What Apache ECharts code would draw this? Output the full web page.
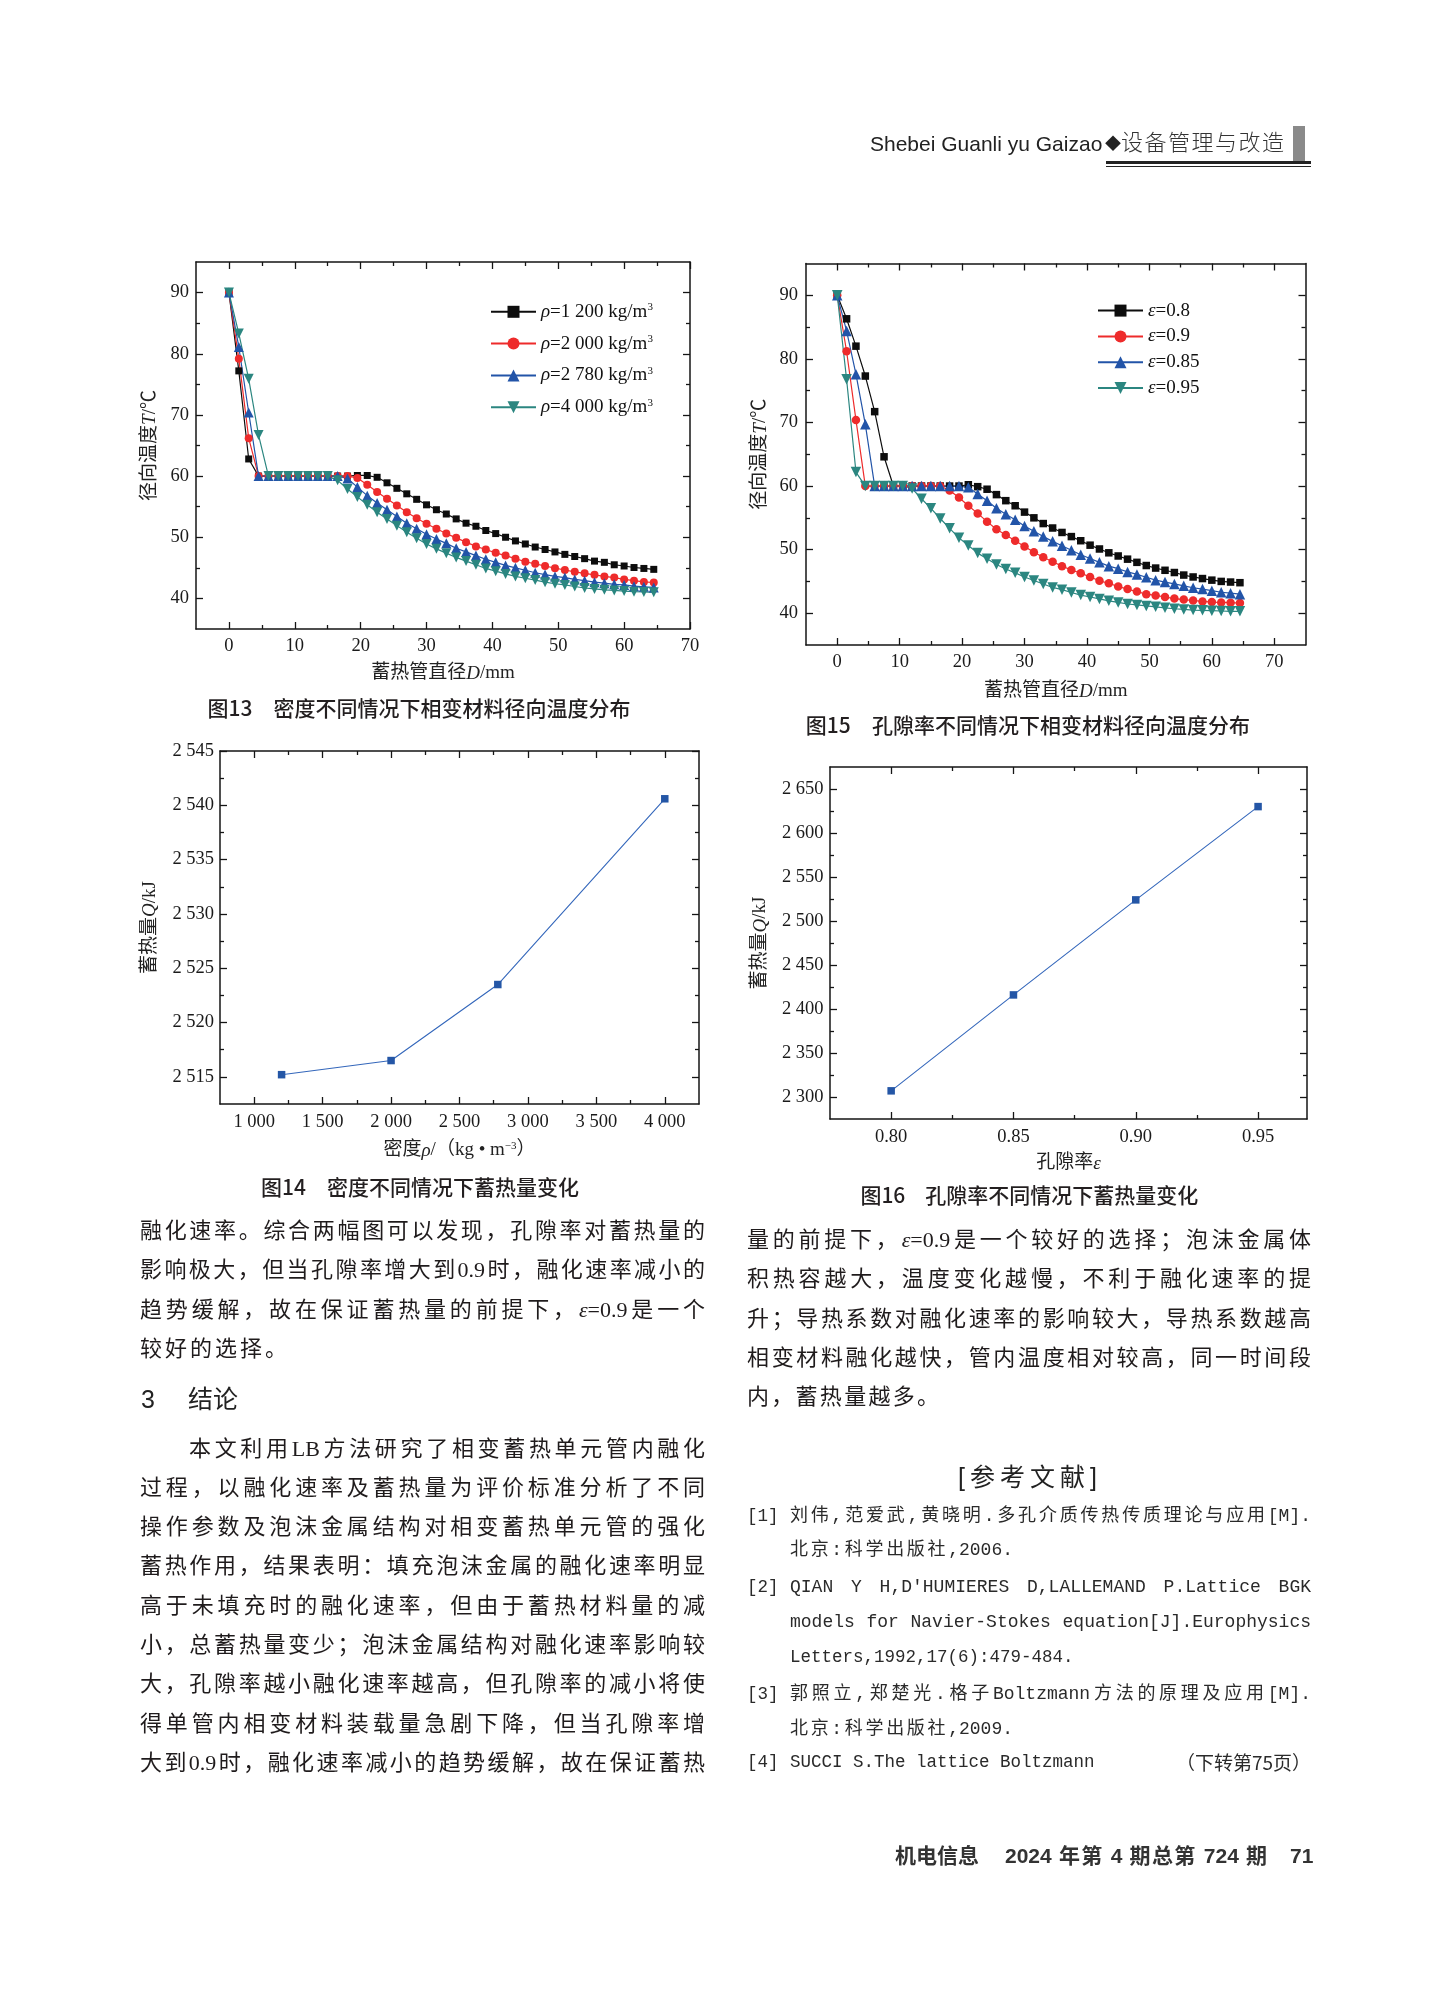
<!DOCTYPE html>
<html><head><meta charset="utf-8">
<script src="https://cdn.jsdelivr.net/npm/echarts@6/dist/echarts.min.js"></script>
<style>
html,body{margin:0;padding:0;background:#fff;}
#page{position:relative;width:1451px;height:1995px;overflow:hidden;background:#fff;}
#chart{position:absolute;left:0;top:0;width:1451px;height:1995px;}
.ln{position:absolute;height:30px;line-height:30px;color:#1f1b1c;white-space:normal;overflow:visible;text-align:justify;text-align-last:justify;}
.body{font-family:"Liberation Serif","Noto Sans CJK SC",serif;font-size:22px;}
.ref{font-family:"Liberation Mono","Noto Sans CJK SC",monospace;font-size:17.5px;color:#2a2a2a;}
.sans{font-family:"Liberation Sans","Noto Sans CJK SC",sans-serif;}
</style></head>
<body><div id="page"><div id="chart"></div></div>
<script>
// ================= DATA =================
// Fig.13 / Fig.15: radial position (mm)
const diameterMM = [0,1.5,3,4.5,6,7.5,9,10.5,12,13.5,15,16.5,18,19.5,21,22.5,24,25.5,27,28.5,30,31.5,33,34.5,36,37.5,39,40.5,42,43.5,45,46.5,48,49.5,51,52.5,54,55.5,57,58.5,60,61.5,63,64.5];
// Fig.13 series (temperature, °C)
const densityNames = ['ρ=1 200 kg/m3','ρ=2 000 kg/m3','ρ=2 780 kg/m3','ρ=4 000 kg/m3'];
const tempRho1200 = [90,77.2,62.8,60,60,60,60,60,60,60,60,60,60,60.1,60.1,59.8,58.9,58.0,57.1,56.2,55.3,54.5,53.8,53.0,52.3,51.8,51.1,50.6,50.0,49.4,48.9,48.4,48.0,47.6,47.2,46.85,46.5,46.1,45.9,45.5,45.3,45.05,44.9,44.75];
const tempRho2000 = [90,79.2,66.2,60,60,60,60,60,60,60,60,60,60,59.7,58.6,57.4,56.3,55.2,54.1,53.1,52.2,51.4,50.6,49.9,49.2,48.5,48.0,47.45,47.0,46.5,46.0,45.65,45.3,44.95,44.65,44.35,44.1,43.85,43.6,43.4,43.1,42.9,42.7,42.6];
const tempRho2780 = [90,81.1,70.4,60,60,60,60,60,60,60,60,60,59.6,58.2,56.8,55.6,54.5,53.4,52.3,51.4,50.5,49.7,49.0,48.2,47.6,47.0,46.4,45.9,45.4,45.0,44.6,44.2,43.9,43.6,43.4,43.1,42.9,42.65,42.5,42.3,42.2,42.0,41.9,41.8];
const tempRho4000 = [90,83.3,75.9,66.7,60,60,60,60,60,60,60,59.3,57.9,56.6,55.3,54.1,53.0,51.9,50.8,49.85,48.9,48.1,47.4,46.7,46.1,45.5,44.9,44.45,44.0,43.6,43.3,43.0,42.65,42.4,42.2,41.95,41.7,41.55,41.4,41.3,41.2,41.1,41.05,41.0];
// Fig.15 series (temperature, °C)
const porosityNames = ['ε=0.8','ε=0.9','ε=0.85','ε=0.95'];
const tempEps08  = [90,86.3,82.0,77.3,71.7,64.6,60,60,60,60,60,60,60,60,60.2,59.9,59.5,58.65,57.7,56.9,55.9,55.0,54.1,53.4,52.7,52.05,51.4,50.7,50.1,49.5,49.0,48.5,48.0,47.5,47.1,46.75,46.4,46.0,45.7,45.45,45.2,45.0,44.9,44.8];
const tempEps09  = [90,81.2,70.4,60,60,60,60,60,60,60,60,60,59.3,58.2,56.9,55.7,54.4,53.2,52.3,51.4,50.5,49.6,48.8,48.1,47.4,46.8,46.3,45.7,45.1,44.7,44.2,43.8,43.4,43.0,42.8,42.55,42.3,42.15,42.0,41.85,41.75,41.7,41.65,41.6];
const tempEps085 = [90,84.4,77.6,69.7,60,60,60,60,60,60,60,60,60,60,59.8,58.75,57.7,56.5,55.55,54.7,53.7,52.9,52.05,51.3,50.6,49.9,49.2,48.6,48.0,47.4,47.0,46.5,46.1,45.65,45.2,44.9,44.6,44.3,44.0,43.8,43.55,43.3,43.15,43.0];
const tempEps095 = [90,76.8,62.2,60,60,60,60,60,59.6,58.0,56.5,54.9,53.35,51.85,50.65,49.45,48.55,47.65,46.95,46.35,45.7,45.15,44.6,44.05,43.7,43.25,42.85,42.55,42.25,41.95,41.7,41.45,41.3,41.15,41.0,40.85,40.7,40.6,40.5,40.45,40.4,40.35,40.3,40.3];
// Fig.14: heat storage vs density
const densityValues = [1200, 2000, 2780, 4000];
const heatByDensity = [2515.2, 2516.5, 2523.5, 2540.6];
// Fig.16: heat storage vs porosity
const porosityValues = [0.80, 0.85, 0.90, 0.95];
const heatByPorosity = [2307, 2416, 2524, 2630];
// tick values
const tempTicks = [40,50,60,70,80,90];
const tempMinor = [45,55,65,75,85];
const diamTicks = [0,10,20,30,40,50,60,70];
const diamMinor = [5,15,25,35,45,55,65];
const rhoTicks = [1000,1500,2000,2500,3000,3500,4000];
const rhoMinor = [1250,1750,2250,2750,3250,3750];
const qRhoTicks = [2515,2520,2525,2530,2535,2540,2545];
const qRhoMinor = [2517.5,2522.5,2527.5,2532.5,2537.5,2542.5];
const epsTicks = [0.80,0.85,0.90,0.95];
const epsMinor = [0.825,0.875,0.925];
const qEpsTicks = [2300,2350,2400,2450,2500,2550,2600,2650];
const qEpsMinor = [2325,2375,2425,2475,2525,2575,2625];

// ================= STYLE HELPERS =================
const AX = '#151515';
const SERIF = "'Liberation Serif','Times New Roman','Noto Sans CJK SC',serif";
const CJK = "'Liberation Serif','Noto Sans CJK SC',serif";
const NAME_FS = 19;
const richName = {
  i: {fontStyle: 'italic', fontFamily: SERIF, fontSize: NAME_FS, color: '#222'},
  s: {fontFamily: SERIF, fontSize: 11, lineHeight: 11, verticalAlign: 'top', color: '#222'}
};
const thousands = v => String(Math.round(v)).replace(/\B(?=(\d{3})+(?!\d))/g, ' ');

function axisSet(kind, gi, min, max, majors, minors, label, nm) {
  const pos = kind === 'x' ? ['bottom', 'top'] : ['left', 'right'];
  const base = {type: 'value', gridIndex: gi, min: min, max: max, splitLine: {show: false},
    minorTick: {show: false}, minorSplitLine: {show: false}, silent: true, z: 3};
  const out = [];
  pos.forEach((p, k) => {
    const main = Object.assign({}, base, {
      position: p,
      axisLine: {show: true, onZero: false, lineStyle: {color: AX, width: 1.5}},
      axisTick: {show: true, inside: true, length: 7, customValues: majors, lineStyle: {color: AX, width: 1.3}},
      axisLabel: k === 0 ? Object.assign({show: true, customValues: majors, color: '#1a1a1a',
        fontFamily: SERIF, fontSize: 18.5}, label) : {show: false}
    });
    if (k === 0 && nm) {
      main.name = nm.text;
      main.nameLocation = 'middle';
      main.nameGap = nm.gap;
      main.nameTextStyle = {fontFamily: CJK, fontSize: NAME_FS, color: '#222', rich: richName};
    }
    out.push(main);
    out.push(Object.assign({}, base, {
      position: p,
      axisLine: {show: false, onZero: false},
      axisTick: {show: true, inside: true, length: 4, customValues: minors, lineStyle: {color: AX, width: 1.3}},
      axisLabel: {show: false}
    }));
  });
  return out;
}

function lineSeries(name, xs, ys, gi, color, symbol, size, rotate) {
  return {type: 'line', name: name, xAxisIndex: gi * 4, yAxisIndex: gi * 4,
    data: xs.map((x, i) => [x, ys[i]]), symbol: symbol, symbolSize: size, symbolRotate: rotate || 0,
    showSymbol: true, showAllSymbol: true, clip: false, animation: false,
    lineStyle: {color: color, width: 1.2}, itemStyle: {color: color, borderWidth: 0},
    emphasis: {disabled: true}, z: 2};
}

const C_BLACK = '#0d0d0d', C_RED = '#ee2b2b', C_BLUE = '#2254a8', C_TEAL = '#2b8680', C_Q = '#2456a6';

const grids = [
  {left: 196, top: 262, width: 494, height: 367},
  {left: 806, top: 263.5, width: 499.5, height: 381.5},
  {left: 220, top: 751, width: 479, height: 353},
  {left: 830, top: 767, width: 477, height: 352}
].map(g => Object.assign({show: false, containLabel: false, outerBoundsMode: 'none'}, g));

const xAxes = [].concat(
  axisSet('x', 0, -5, 70, diamTicks, diamMinor, {margin: 8}, {text: '蓄热管直径{i|D}/mm', gap: 35}),
  axisSet('x', 1, -5, 75, diamTicks, diamMinor, {margin: 8}, {text: '蓄热管直径{i|D}/mm', gap: 37}),
  axisSet('x', 2, 750, 4250, rhoTicks, rhoMinor, {margin: 9, formatter: thousands}, {text: '密度{i|ρ}/（kg • m{s|−3}）', gap: 37}),
  axisSet('x', 3, 0.775, 0.97, epsTicks, epsMinor, {margin: 9, formatter: v => v.toFixed(2)}, {text: '孔隙率{i|ε}', gap: 35})
);
const yAxes = [].concat(
  axisSet('y', 0, 35, 95, tempTicks, tempMinor, {margin: 7}, {text: '径向温度{i|T}/℃', gap: 36}),
  axisSet('y', 1, 35, 95, tempTicks, tempMinor, {margin: 8}, {text: '径向温度{i|T}/℃', gap: 36}),
  axisSet('y', 2, 2512.5, 2545, qRhoTicks, qRhoMinor, {margin: 6, formatter: thousands}, {text: '蓄热量{i|Q}/kJ', gap: 60}),
  axisSet('y', 3, 2275, 2675, qEpsTicks, qEpsMinor, {margin: 6.5, formatter: thousands}, {text: '蓄热量{i|Q}/kJ', gap: 60})
);

const series = [
  lineSeries(densityNames[0], diameterMM, tempRho1200, 0, C_BLACK, 'rect', 7),
  lineSeries(densityNames[1], diameterMM, tempRho2000, 0, C_RED, 'circle', 8),
  lineSeries(densityNames[2], diameterMM, tempRho2780, 0, C_BLUE, 'triangle', 10),
  lineSeries(densityNames[3], diameterMM, tempRho4000, 0, C_TEAL, 'triangle', 10, 180),
  lineSeries(porosityNames[0], diameterMM, tempEps08, 1, C_BLACK, 'rect', 7.5),
  lineSeries(porosityNames[1], diameterMM, tempEps09, 1, C_RED, 'circle', 8.5),
  lineSeries(porosityNames[2], diameterMM, tempEps085, 1, C_BLUE, 'triangle', 10.5),
  lineSeries(porosityNames[3], diameterMM, tempEps095, 1, C_TEAL, 'triangle', 10.5, 180),
  lineSeries('Q-ρ', densityValues, heatByDensity, 2, C_Q, 'rect', 7.5),
  lineSeries('Q-ε', porosityValues, heatByPorosity, 3, C_Q, 'rect', 7.5)
];
series[8].lineStyle.width = 1.1; series[9].lineStyle.width = 1.1;
series[8].lineStyle.color = '#3467bb'; series[9].lineStyle.color = '#3467bb';

const LFS = 19;
const legendText = {fontFamily: SERIF, fontSize: LFS, color: '#111', lineHeight: 20,
  rich: {i: {fontStyle: 'italic', fontFamily: SERIF, fontSize: LFS, lineHeight: 20, color: '#111'},
         n: {fontFamily: SERIF, fontSize: LFS, lineHeight: 20, color: '#111'},
         s: {fontFamily: SERIF, fontSize: 11, lineHeight: 11, verticalAlign: 'top', color: '#111'}}};
const legends = [
  {data: densityNames, orient: 'vertical', left: 490, top: 301.8, padding: 0, itemWidth: 45, itemHeight: 15,
   itemGap: 11.8, selectedMode: false, textStyle: legendText, itemStyle: {borderWidth: 0},
   formatter: n => '{i|ρ}{n|' + n.slice(1).replace(/m3$/, 'm') + '}{s|3}'},
  {data: porosityNames, orient: 'vertical', left: 1097, top: 300.6, padding: 0, itemWidth: 45, itemHeight: 15,
   itemGap: 5.8, selectedMode: false, textStyle: legendText, itemStyle: {borderWidth: 0},
   formatter: n => '{i|ε}{n|' + n.slice(1) + '}'}
];

const capFont = {fontFamily: "'Noto Sans CJK SC','Liberation Sans',sans-serif", fontSize: 21, fontWeight: 500, fill: '#231f20'};
const captions = [
  ['图13', 207.5, '密度不同情况下相变材料径向温度分布', 273.6, 707.7],
  ['图15', 805.7, '孔隙率不同情况下相变材料径向温度分布', 871.9, 725.5],
  ['图14', 261, '密度不同情况下蓄热量变化', 327, 1187.5],
  ['图16', 860.4, '孔隙率不同情况下蓄热量变化', 925.3, 1195.2]
];
const graphicEls = [];
captions.forEach(c => {
  graphicEls.push({type: 'text', x: c[1], y: c[4], silent: true,
    style: Object.assign({text: c[0], textAlign: 'left', textVerticalAlign: 'middle', verticalAlign: 'middle'}, capFont)});
  graphicEls.push({type: 'text', x: c[3], y: c[4], silent: true,
    style: Object.assign({text: c[2], textAlign: 'left', textVerticalAlign: 'middle', verticalAlign: 'middle'}, capFont)});
});

const chart = echarts.init(document.getElementById('chart'), null, {renderer: 'canvas', width: 1451, height: 1995});
chart.setOption({
  animation: false,
  backgroundColor: 'transparent',
  grid: grids,
  xAxis: xAxes,
  yAxis: yAxes,
  legend: legends,
  series: series,
  graphic: {elements: graphicEls}
});

// ================= PAGE TEXT =================
const page = document.getElementById('page');
function addText(cls, x, yc, w, html, align, extra) {
  const d = document.createElement('div');
  d.className = 'ln ' + cls;
  d.style.left = x + 'px';
  d.style.top = (yc - 15) + 'px';
  if (w) d.style.width = w + 'px';
  if (align) { d.style.textAlign = align; d.style.textAlignLast = align; }
  if (extra) Object.assign(d.style, extra);
  d.innerHTML = html;
  page.appendChild(d);
}
const E = '<i>ε</i>';
// header
addText('sans', 870, 144, null, 'Shebei Guanli yu Gaizao', 'left', {fontSize: '21px', color: '#222', whiteSpace: 'nowrap'});
addText('sans', 1105, 144, null, '◆', 'left', {fontSize: '16px', color: '#222', whiteSpace: 'nowrap'});
addText('sans', 1121, 143, 163, '设备管理与改造', null, {fontSize: '22px', color: '#333', fontWeight: '300'});
// left column
const leftLines = [
  [140, 1231, 565, '融化速率。综合两幅图可以发现，孔隙率对蓄热量的'],
  [140, 1270.3, 565, '影响极大，但当孔隙率增大到0.9时，融化速率减小的'],
  [140, 1309.6, 565, '趋势缓解，故在保证蓄热量的前提下，' + E + '=0.9是一个'],
  [140, 1348.9, 147, '较好的选择。'],
  [189, 1448.5, 516, '本文利用LB方法研究了相变蓄热单元管内融化'],
  [140, 1487.8, 565, '过程，以融化速率及蓄热量为评价标准分析了不同'],
  [140, 1527.1, 565, '操作参数及泡沫金属结构对相变蓄热单元管的强化'],
  [140, 1566.4, 565, '蓄热作用，结果表明：填充泡沫金属的融化速率明显'],
  [140, 1605.7, 565, '高于未填充时的融化速率，但由于蓄热材料量的减'],
  [140, 1645, 565, '小，总蓄热量变少；泡沫金属结构对融化速率影响较'],
  [140, 1684.3, 565, '大，孔隙率越小融化速率越高，但孔隙率的减小将使'],
  [140, 1723.6, 565, '得单管内相变材料装载量急剧下降，但当孔隙率增'],
  [140, 1762.9, 565, '大到0.9时，融化速率减小的趋势缓解，故在保证蓄热']
];
leftLines.forEach(l => addText('body', l[0], l[1], l[2], l[3]));
addText('sans', 141, 1399, null, '3', 'left', {fontSize: '25px', color: '#222'});
addText('sans', 188, 1399, null, '结论', 'left', {fontSize: '25px', color: '#222', whiteSpace: 'nowrap'});
// right column
const rightLines = [
  [747, 1239.7, 564, '量的前提下，' + E + '=0.9是一个较好的选择；泡沫金属体'],
  [747, 1279.2, 564, '积热容越大，温度变化越慢，不利于融化速率的提'],
  [747, 1318.6, 564, '升；导热系数对融化速率的影响较大，导热系数越高'],
  [747, 1357.9, 564, '相变材料融化越快，管内温度相对较高，同一时间段'],
  [747, 1397.2, 192, '内，蓄热量越多。']
];
rightLines.forEach(l => addText('body', l[0], l[1], l[2], l[3]));
addText('sans', 958, 1476.5, 139, '[参考文献]', null, {fontSize: '25px', color: '#222'});
// references
const refLabels = [['[1]', 1516], ['[2]', 1587.2], ['[3]', 1694.2], ['[4]', 1761.6]];
refLabels.forEach(r => addText('ref', 747, r[1], null, r[0], 'left', {whiteSpace: 'nowrap'}));
const refLines = [
  [790, 1516, 521, '刘伟,范爱武,黄晓明.多孔介质传热传质理论与应用[M].'],
  [790, 1550.3, 223, '北京:科学出版社,2006.'],
  [790, 1587.2, 521, 'QIAN Y H,D\'HUMIERES D,LALLEMAND P.Lattice BGK'],
  [790, 1621.6, 521, 'models for Navier-Stokes equation[J].Europhysics'],
  [790, 1657.3, null, 'Letters,1992,17(6):479-484.'],
  [790, 1694.2, 521, '郭照立,郑楚光.格子Boltzmann方法的原理及应用[M].'],
  [790, 1728.5, 223, '北京:科学出版社,2009.'],
  [790, 1761.6, null, 'SUCCI S.The lattice Boltzmann']
];
refLines.forEach(l => addText('ref', l[0], l[1], l[2], l[3], l[2] ? null : 'left', l[2] ? {fontSize: '18px'} : {whiteSpace: 'nowrap'}));
addText('ref', 1160, 1761.6, 151, '（下转第75页）', 'right', {fontFamily: "'Noto Sans CJK SC',sans-serif", fontSize: '19px'});
// footer
addText('sans', 895, 1855.8, null, '机电信息', 'left', {fontSize: '21px', fontWeight: 'bold', color: '#333', whiteSpace: 'nowrap'});
addText('sans', 1005, 1855.8, 262, '2024 年第 4 期总第 724 期', null, {fontSize: '21px', fontWeight: 'bold', color: '#333'});
addText('sans', 1290, 1855.8, null, '71', 'left', {fontSize: '21px', fontWeight: 'bold', color: '#333', whiteSpace: 'nowrap'});
// header rules & bar
function addBox(x, y, w, h, c) {
  const d = document.createElement('div');
  Object.assign(d.style, {position: 'absolute', left: x + 'px', top: y + 'px', width: w + 'px', height: h + 'px', background: c});
  page.appendChild(d);
}
addBox(1293, 126, 12, 35, '#8a8a8a');
addBox(1106, 160.5, 205, 3, '#222');
addBox(1106, 165.5, 205, 1.2, '#222');
</script>
</body></html>
